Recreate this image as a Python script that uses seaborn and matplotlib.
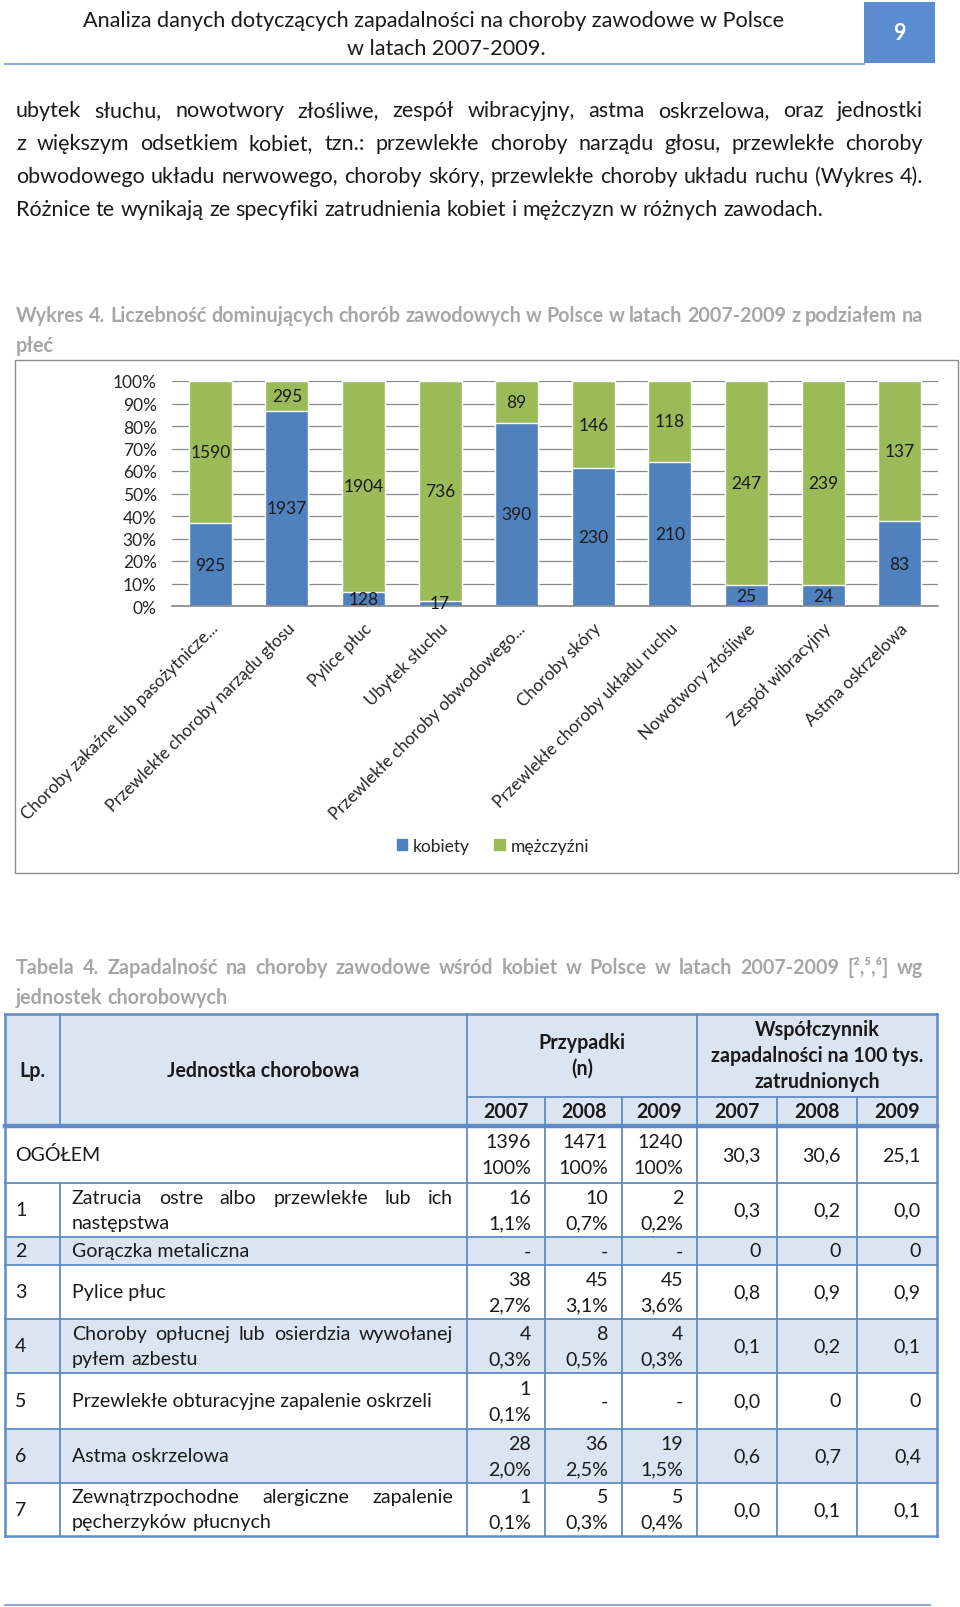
import matplotlib
matplotlib.use("Agg")
import matplotlib.pyplot as plt
import seaborn as sns
import pandas as pd
from matplotlib.patches import Rectangle, Patch
from matplotlib.lines import Line2D

W, H = 960, 1608

# --- wykres 4 ---
kategorie = ["Choroby zakaźne lub pasożytnicze...", "Przewlekłe choroby narządu głosu",
             "Pylice płuc", "Ubytek słuchu", "Przewlekłe choroby obwodowego...",
             "Choroby skóry", "Przewlekłe choroby układu ruchu", "Nowotwory złośliwe",
             "Zespół wibracyjny", "Astma oskrzelowa"]
kobiety = [925, 1937, 128, 17, 390, 230, 210, 25, 24, 83]
mezczyzni = [1590, 295, 1904, 736, 89, 146, 118, 247, 239, 137]

# --- tabela 4 ---
lp = ["OGÓŁEM", "1", "2", "3", "4", "5", "6", "7"]
jednostki = [[""],
             ["Zatrucia ostre albo przewlekłe lub ich", "następstwa"],
             ["Gorączka metaliczna"],
             ["Pylice płuc"],
             ["Choroby opłucnej lub osierdzia wywołanej", "pyłem azbestu"],
             ["Przewlekłe obturacyjne zapalenie oskrzeli"],
             ["Astma oskrzelowa"],
             ["Zewnątrzpochodne alergiczne zapalenie", "pęcherzyków płucnych"]]
n_2007 = ["1396", "16", "-", "38", "4", "1", "28", "1"]
proc_2007 = ["100%", "1,1%", "", "2,7%", "0,3%", "0,1%", "2,0%", "0,1%"]
n_2008 = ["1471", "10", "-", "45", "8", "-", "36", "5"]
proc_2008 = ["100%", "0,7%", "", "3,1%", "0,5%", "", "2,5%", "0,3%"]
n_2009 = ["1240", "2", "-", "45", "4", "-", "19", "5"]
proc_2009 = ["100%", "0,2%", "", "3,6%", "0,3%", "", "1,5%", "0,4%"]
wsp_2007 = ["30,3", "0,3", "0", "0,8", "0,1", "0,0", "0,6", "0,0"]
wsp_2008 = ["30,6", "0,2", "0", "0,9", "0,2", "0", "0,7", "0,1"]
wsp_2009 = ["25,1", "0,0", "0", "0,9", "0,1", "0", "0,4", "0,1"]
lata = ["2007", "2008", "2009", "2007", "2008", "2009"]

akapit = ["ubytek słuchu, nowotwory złośliwe, zespół wibracyjny, astma oskrzelowa, oraz jednostki",
          "z większym odsetkiem kobiet, tzn.: przewlekłe choroby narządu głosu, przewlekłe choroby",
          "obwodowego układu nerwowego, choroby skóry, przewlekłe choroby układu ruchu (Wykres 4).",
          "Różnice te wynikają ze specyfiki zatrudnienia kobiet i mężczyzn w różnych zawodach."]

BLUE = "#4f81bd"
GREEN = "#9bbb59"
GREY_CAP = "#a6a6a6"
TBL_LINE = "#5f8bc6"
TBL_FILL = "#dbe5f1"
TXT = "#1a1a1a"
CHART_FS = 12.5

sns.set_theme(style="white")
plt.rcParams["font.family"] = ["Lato", "DejaVu Sans"]

fig = plt.figure(figsize=(W / 100, H / 100), dpi=100)
R = fig.canvas.get_renderer()


def fx(x):
    return x / W


def fy(y):
    return 1 - y / H


def width_of(s, size, weight="normal"):
    t = fig.text(0, 0, s, fontsize=size, fontweight=weight)
    w = t.get_window_extent(R).width
    t.remove()
    return w


def fit(s, target, weight="normal"):
    return 20 * target / width_of(s, 20, weight)


def line(s, x0, x1, y, size, color=TXT, weight="normal", justify=True, va="baseline"):
    words = s.split(" ")
    arts = [fig.text(fx(x0), fy(y), w, fontsize=size, color=color, fontweight=weight, va=va)
            for w in words]
    ws = [a.get_window_extent(R).width for a in arts]
    if justify and len(words) > 1:
        gap = (x1 - x0 - sum(ws)) / (len(words) - 1)
    else:
        gap = width_of("a a", size, weight) - width_of("aa", size, weight)
    x = x0
    for a, w in zip(arts, ws):
        a.set_x(fx(x))
        x += w + gap


def hline(y, x0, x1, color=TBL_LINE, lw=1.3):
    fig.add_artist(Line2D([fx(x0), fx(x1)], [fy(y), fy(y)], color=color, lw=lw,
                          transform=fig.transFigure, solid_capstyle="projecting"))


def vline(x, y0, y1, color=TBL_LINE, lw=1.3):
    fig.add_artist(Line2D([fx(x), fx(x)], [fy(y0), fy(y1)], color=color, lw=lw,
                          transform=fig.transFigure, solid_capstyle="projecting"))


def rect(x0, y0, x1, y1, **kw):
    fig.add_artist(Rectangle((fx(x0), fy(y1)), (x1 - x0) / W, (y1 - y0) / H,
                             transform=fig.transFigure, **kw))


# naglowek strony
hs = fit("Analiza danych dotyczących zapadalności na choroby zawodowe w Polsce", 701)
fig.text(fx(434), fy(27), "Analiza danych dotyczących zapadalności na choroby zawodowe w Polsce",
         ha="center", va="baseline", fontsize=hs, color=TXT)
fig.text(fx(446), fy(55), "w latach 2007-2009.", ha="center", va="baseline", fontsize=hs, color=TXT)
rect(864, 3, 935, 64, fc="#5b8bd0", ec="none")
fig.text(fx(899.5), fy(34), "9", ha="center", va="center", fontsize=hs, color="white",
         fontweight="bold")
hline(64.5, 5, 864, color="#8eaacc", lw=1.5)

# akapit
ps = fit(akapit[3], 808)
for i, s in enumerate(akapit):
    line(s, 16, 923, 117 + i * 33, ps, justify=(i < 3))

# podpis wykresu
cs = fit("jednostek chorobowych", 212, "bold")
line("Wykres 4. Liczebność dominujących chorób zawodowych w Polsce w latach 2007-2009 z podziałem na",
     16, 923, 322, cs, color=GREY_CAP, weight="bold")
line("płeć", 16, 923, 352, cs, color=GREY_CAP, weight="bold", justify=False)

# ramka wykresu
rect(15, 361, 958, 874, fill=False, ec="#8c8c8c", lw=1)

df = pd.DataFrame({"kategoria": kategorie, "kobiety": kobiety, "mezczyzni": mezczyzni})
df["pk"] = df["kobiety"] / (df["kobiety"] + df["mezczyzni"]) * 100
df["calosc"] = 100.0

ax = fig.add_axes([fx(172), fy(607), 766 / W, 225 / H])
sns.barplot(data=df, x="kategoria", y="calosc", color=GREEN, width=0.56, saturation=1, ax=ax)
sns.barplot(data=df, x="kategoria", y="pk", color=BLUE, width=0.56, saturation=1, ax=ax)
for i in range(len(df)):
    pk = df["pk"].iloc[i]
    ax.text(i, pk / 2, str(kobiety[i]), ha="center", va="center", fontsize=CHART_FS, color=TXT)
    ax.text(i, (pk + 100) / 2, str(mezczyzni[i]), ha="center", va="center", fontsize=CHART_FS,
            color=TXT)

ax.set_ylim(0, 100)
ax.set_xlim(-0.5, len(df) - 0.5)
ax.set_yticks(range(0, 101, 10))
ax.set_yticklabels([f"{v}%" for v in range(0, 101, 10)], fontsize=CHART_FS, color="#262626")
ax.set_xlabel("")
ax.set_ylabel("")
ax.yaxis.grid(True, color="#8a8a8a", lw=0.9)
ax.set_axisbelow(True)
for s in ["top", "right", "left"]:
    ax.spines[s].set_visible(False)
ax.spines["bottom"].set_color("#8a8a8a")
ax.tick_params(axis="y", left=False, pad=5)
ax.tick_params(axis="x", bottom=False, pad=4)
ax.set_xticks(range(len(df)))
ax.set_xticklabels(kategorie, fontsize=12.3, color="#262626")
plt.setp(ax.get_xticklabels(), rotation=45, ha="right", va="top", rotation_mode="anchor")

fig.legend(handles=[Patch(color=BLUE, label="kobiety"), Patch(color=GREEN, label="mężczyźni")],
           loc="center", bbox_to_anchor=(fx(493), fy(847)), ncol=2, frameon=False,
           fontsize=CHART_FS, handlelength=0.6, handleheight=0.6, handletextpad=0.35,
           columnspacing=1.4, labelcolor="#262626")

# podpis tabeli
line("Tabela 4. Zapadalność na choroby zawodowe wśród kobiet w Polsce w latach 2007-2009 [²,⁵,⁶] wg",
     16, 923, 974, cs, color=GREY_CAP, weight="bold")
line("jednostek chorobowych", 16, 923, 1004, cs, color=GREY_CAP, weight="bold", justify=False)

# tabela
cols = [5, 60, 467, 545, 622, 697, 777, 857, 937]
row_y = [1127, 1184, 1238, 1266, 1320, 1374, 1430, 1484, 1537]
TOP, HDIV = 1015, 1098
ts = fit("Przewlekłe obturacyjne zapalenie oskrzeli", 359)

rect(cols[0], TOP, cols[-1], row_y[0], fc=TBL_FILL, ec="none")
for i in [2, 4, 6]:
    rect(cols[0], row_y[i], cols[-1], row_y[i + 1], fc=TBL_FILL, ec="none")

hline(TOP, cols[0], cols[-1], lw=1.8)
hline(HDIV, cols[2], cols[-1])
hline(row_y[0], cols[0], cols[-1], lw=3.2)
for y in row_y[1:-1]:
    hline(y, cols[0], cols[-1])
hline(row_y[-1], cols[0], cols[-1], lw=1.8)
vline(cols[0], TOP, row_y[-1], lw=1.8)
vline(cols[-1], TOP, row_y[-1], lw=1.8)
vline(cols[1], TOP, row_y[0])
vline(cols[1], row_y[1], row_y[-1])
for c in [2, 5]:
    vline(cols[c], TOP, row_y[-1])
for c in [3, 4, 6, 7]:
    vline(cols[c], HDIV, row_y[-1])

hkw = dict(fontsize=ts, fontweight="bold", color=TXT, ha="center", va="center")
fig.text(fx((cols[0] + cols[1]) / 2), fy(1071), "Lp.", **hkw)
fig.text(fx((cols[1] + cols[2]) / 2), fy(1071), "Jednostka chorobowa", **hkw)
fig.text(fx((cols[2] + cols[5]) / 2), fy(1043), "Przypadki", **hkw)
fig.text(fx((cols[2] + cols[5]) / 2), fy(1069), "(n)", **hkw)
for k, s in enumerate(["Współczynnik", "zapadalności na 100 tys.", "zatrudnionych"]):
    fig.text(fx((cols[5] + cols[8]) / 2), fy(1030 + k * 26), s, **hkw)
for k, s in enumerate(lata):
    fig.text(fx((cols[2 + k] + cols[3 + k]) / 2), fy(1112.5), s, **hkw)

dkw = dict(fontsize=ts, color=TXT, va="center")
przyp = [(n_2007, proc_2007), (n_2008, proc_2008), (n_2009, proc_2009)]
wsp = [wsp_2007, wsp_2008, wsp_2009]
for r in range(len(lp)):
    y0, y1 = row_y[r], row_y[r + 1]
    yc = (y0 + y1) / 2
    fig.text(fx(15), fy(yc), lp[r], ha="left", **dkw)
    nm = jednostki[r]
    if len(nm) == 1:
        if nm[0]:
            fig.text(fx(72), fy(yc), nm[0], ha="left", **dkw)
    else:
        line(nm[0], 72, 453, yc - 12.5, ts, va="center")
        line(nm[1], 72, 453, yc + 12.5, ts, va="center", justify=False)
    for k, (nn, pp) in enumerate(przyp):
        xr = cols[3 + k] - 14
        if pp[r]:
            fig.text(fx(xr), fy(yc - 12.5), nn[r], ha="right", **dkw)
            fig.text(fx(xr), fy(yc + 12.5), pp[r], ha="right", **dkw)
        else:
            fig.text(fx(xr), fy(yc), nn[r], ha="right", **dkw)
    for k, ww in enumerate(wsp):
        fig.text(fx(cols[6 + k] - 16), fy(yc), ww[r], ha="right", **dkw)

hline(1606, 5, 930, color="#8eaacc", lw=1.5)

fig.savefig("out.png", dpi=100, facecolor="white")
